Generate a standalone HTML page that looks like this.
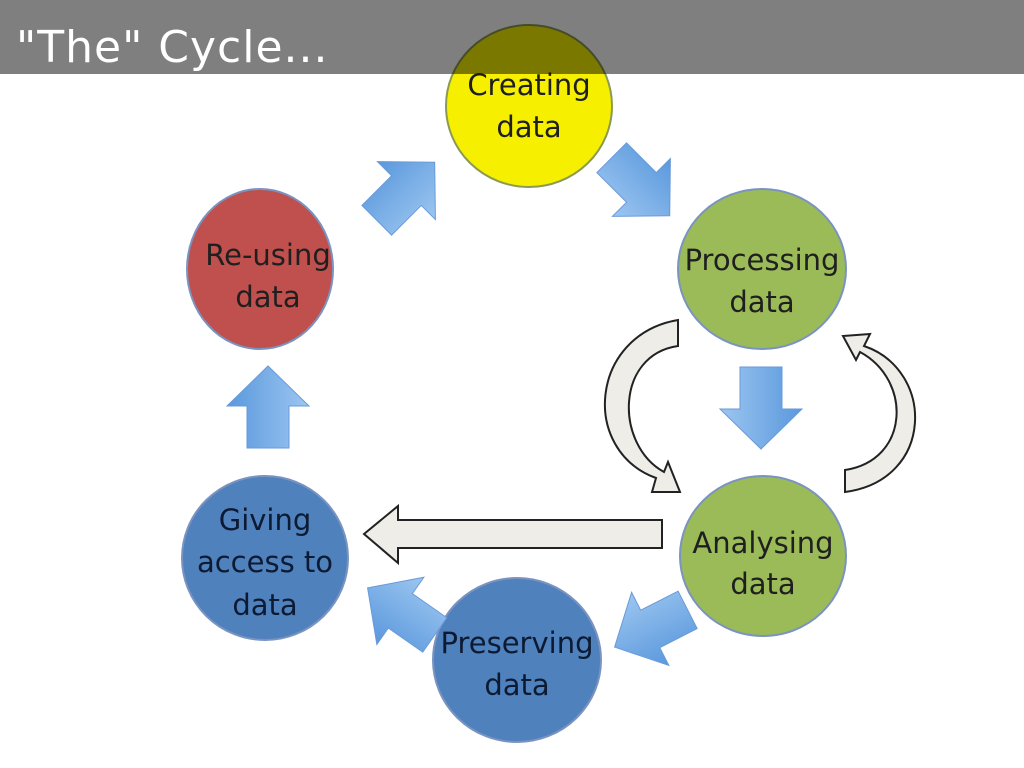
<!DOCTYPE html>
<html><head><meta charset="utf-8"><style>
html,body{margin:0;padding:0;background:#fff;}
svg{display:block;}
</style></head><body>
<svg width="1024" height="768" viewBox="0 0 1024 768" xmlns="http://www.w3.org/2000/svg">
<defs>
<linearGradient id="bg" x1="0" y1="0" x2="0" y2="1">
<stop offset="0" stop-color="#5a98dd"/><stop offset="1" stop-color="#9cc6f0"/>
</linearGradient>
<path id="ar" d="M-40,-21 L2,-21 L2,-41 L42,0 L2,41 L2,21 L-40,21 Z"/>
</defs>
<rect width="1024" height="768" fill="#fff"/>
<g font-family="'DejaVu Sans','Liberation Sans',sans-serif" font-size="29" text-anchor="middle">
<ellipse cx="529" cy="106" rx="83" ry="81" fill="#f6f000" stroke="#8a9a50" stroke-width="2"/>
<ellipse cx="762" cy="269" rx="84" ry="80" fill="#9bbb59" stroke="#7a93c0" stroke-width="2"/>
<ellipse cx="260" cy="269" rx="73" ry="80" fill="#c0504d" stroke="#7a93c0" stroke-width="2"/>
<ellipse cx="763" cy="556" rx="83" ry="80" fill="#9bbb59" stroke="#7a93c0" stroke-width="2"/>
<ellipse cx="265" cy="558" rx="83" ry="82" fill="#4f81bd" stroke="#7a93c0" stroke-width="2"/>
<ellipse cx="517" cy="660" rx="84" ry="82" fill="#4f81bd" stroke="#7a93c0" stroke-width="2"/>
<g fill="url(#bg)" stroke="#6a9ad8" stroke-width="1">
<use href="#ar" transform="translate(405,192) rotate(-45)"/>
<use href="#ar" transform="translate(640,186) rotate(45)"/>
<use href="#ar" transform="translate(761,407) rotate(90)"/>
<use href="#ar" transform="translate(268,408) rotate(-90)"/>
<use href="#ar" transform="translate(652,628) rotate(153)"/>
<use href="#ar" transform="translate(402,612) rotate(-145)"/>
</g>
<g fill="#eeede8" stroke="#222" stroke-width="2">
<path d="M662,520 L398,520 L398,506 L364,534 L398,563 L398,548 L662,548 Z"/>
<path d="M678,320 C590,335 580,450 656,478 L652,492 L680,492 L668,462 L664,472 C615,445 615,355 678,346 Z"/>
<path d="M845,492 C935,480 935,370 864,346 L870,334 L843,336 L856,360 L860,352 C912,380 910,460 845,470 Z"/>
</g>
<g fill="#1f1f1f">
<text x="529" y="95">Creating</text><text x="529" y="137">data</text>
<text x="762" y="270">Processing</text><text x="762" y="312">data</text>
<text x="268" y="265">Re-using</text><text x="268" y="307">data</text>
<text x="763" y="553">Analysing</text><text x="763" y="594">data</text>
</g>
<g fill="#0d1a33">
<text x="265" y="530">Giving</text><text x="265" y="572">access to</text><text x="265" y="615">data</text>
<text x="517" y="653">Preserving</text><text x="517" y="695">data</text>
</g>
</g>
<rect x="0" y="0" width="1024" height="74" fill="#000" fill-opacity="0.5"/>
<text x="16" y="62" font-family="'DejaVu Sans','Liberation Sans',sans-serif" font-size="44" fill="#fff" letter-spacing="1">"The" Cycle...</text>
</svg>
</body></html>
